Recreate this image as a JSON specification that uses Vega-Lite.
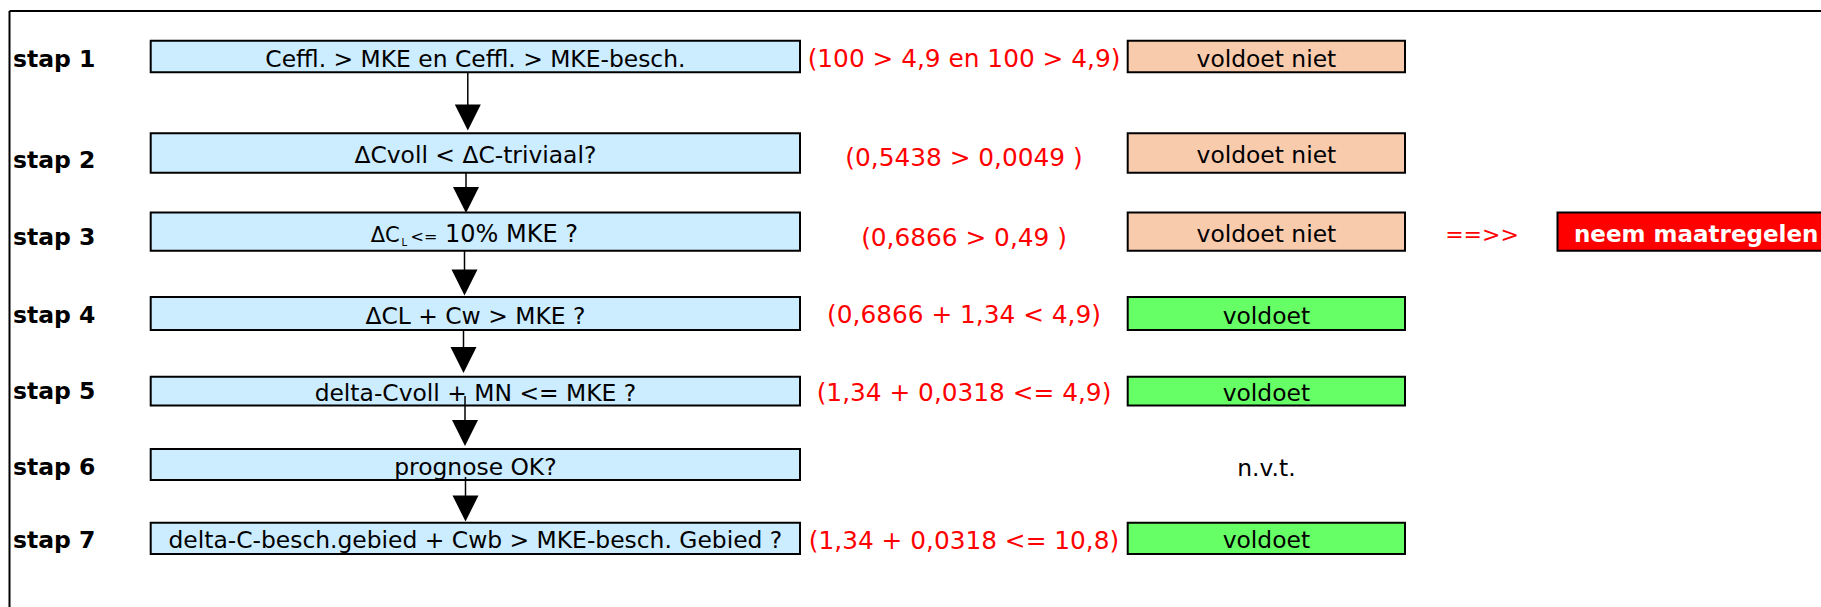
{
  "$schema": "https://vega.github.io/schema/vega-lite/v6.json",
  "width": 1821,
  "height": 607,
  "padding": 0,
  "autosize": {"type": "none"},
  "background": "white",
  "config": {"view": {"stroke": null}, "text": {"font": "DejaVu Sans"}},
  "datasets": {
    "frame": [
      {"x": 9.5, "x2": 1821, "y": 11, "y2": 11},
      {"x": 9.5, "x2": 9.5, "y": 11, "y2": 607}
    ],
    "boxes": [
      {"kind": "vraag", "x0": 150.7, "x1": 800, "y0": 40.7, "y1": 72.3},
      {"kind": "vraag", "x0": 150.7, "x1": 800, "y0": 133.3, "y1": 172.8},
      {"kind": "vraag", "x0": 150.7, "x1": 800, "y0": 212.5, "y1": 250.8},
      {"kind": "vraag", "x0": 150.7, "x1": 800, "y0": 297, "y1": 330},
      {"kind": "vraag", "x0": 150.7, "x1": 800, "y0": 376.7, "y1": 405.5},
      {"kind": "vraag", "x0": 150.7, "x1": 800, "y0": 449, "y1": 480},
      {"kind": "vraag", "x0": 150.7, "x1": 800, "y0": 522.7, "y1": 554},
      {"kind": "voldoet niet", "x0": 1127.7, "x1": 1405, "y0": 40.7, "y1": 72.3},
      {"kind": "voldoet niet", "x0": 1127.7, "x1": 1405, "y0": 133.3, "y1": 172.8},
      {"kind": "voldoet niet", "x0": 1127.7, "x1": 1405, "y0": 212.5, "y1": 250.8},
      {"kind": "voldoet", "x0": 1127.7, "x1": 1405, "y0": 297, "y1": 330},
      {"kind": "voldoet", "x0": 1127.7, "x1": 1405, "y0": 376.7, "y1": 405.5},
      {"kind": "voldoet", "x0": 1127.7, "x1": 1405, "y0": 522.7, "y1": 554},
      {"kind": "maatregel", "x0": 1557.5, "x1": 1900, "y0": 212.5, "y1": 250.8}
    ],
    "arrows": [
      {"x": 467.8, "ytop": 72, "yhead": 117.5},
      {"x": 466, "ytop": 172.8, "yhead": 200},
      {"x": 464.5, "ytop": 250.8, "yhead": 282.5},
      {"x": 463.5, "ytop": 330, "yhead": 360},
      {"x": 465, "ytop": 396, "yhead": 433},
      {"x": 465.5, "ytop": 477, "yhead": 508.5}
    ],
    "steps": [
      {"label": "stap 1", "x": 13, "y": 59.5},
      {"label": "stap 2", "x": 13, "y": 160.5},
      {"label": "stap 3", "x": 13, "y": 237.5},
      {"label": "stap 4", "x": 13, "y": 315.5},
      {"label": "stap 5", "x": 13, "y": 391.5},
      {"label": "stap 6", "x": 13, "y": 467.5},
      {"label": "stap 7", "x": 13, "y": 541}
    ],
    "questions": [
      {"text": "Ceffl. > MKE en Ceffl. > MKE-besch.", "x": 475.4, "y": 59.5},
      {"text": "ΔCvoll < ΔC-triviaal?", "x": 475.4, "y": 156},
      {"text": "ΔCL + Cw > MKE ?", "x": 475.4, "y": 316.5},
      {"text": "delta-Cvoll + MN <= MKE ?", "x": 475.4, "y": 394},
      {"text": "prognose OK?", "x": 475.4, "y": 467.5},
      {"text": "delta-C-besch.gebied + Cwb > MKE-besch. Gebied ?", "x": 475.4, "y": 541.3}
    ],
    "checks": [
      {"text": "(100 > 4,9 en 100 > 4,9)", "x": 964, "y": 60},
      {"text": "(0,5438 > 0,0049 )", "x": 964, "y": 159},
      {"text": "(0,6866 > 0,49 )", "x": 964, "y": 238.5},
      {"text": "(0,6866 + 1,34 < 4,9)", "x": 964, "y": 316},
      {"text": "(1,34 + 0,0318 <= 4,9)", "x": 964, "y": 393.5},
      {"text": "(1,34 + 0,0318 <= 10,8)", "x": 964, "y": 541.5}
    ],
    "verdicts": [
      {"text": "voldoet niet", "x": 1266.4, "y": 59.5},
      {"text": "voldoet niet", "x": 1266.4, "y": 156},
      {"text": "voldoet niet", "x": 1266.4, "y": 234.6},
      {"text": "voldoet", "x": 1266.4, "y": 316.5},
      {"text": "voldoet", "x": 1266.4, "y": 394},
      {"text": "n.v.t.", "x": 1266.4, "y": 468.5},
      {"text": "voldoet", "x": 1266.4, "y": 541.3}
    ]
  },
  "layer": [
    {
      "data": {"name": "frame"},
      "mark": {"type": "rule", "color": "black", "strokeWidth": 2},
      "encoding": {
        "x": {"field": "x", "type": "quantitative", "scale": {"domain": [0, 1821], "nice": false, "zero": false}, "axis": null},
        "x2": {"field": "x2"},
        "y": {"field": "y", "type": "quantitative", "scale": {"domain": [0, 607], "nice": false, "zero": false, "reverse": true}, "axis": null},
        "y2": {"field": "y2"}
      }
    },
    {
      "data": {"name": "boxes"},
      "mark": {"type": "rect", "stroke": "black", "strokeWidth": 2, "clip": true},
      "encoding": {
        "x": {"field": "x0", "type": "quantitative"},
        "x2": {"field": "x1"},
        "y": {"field": "y0", "type": "quantitative"},
        "y2": {"field": "y1"},
        "color": {"field": "kind", "type": "nominal", "legend": null,
          "scale": {"domain": ["vraag", "voldoet niet", "voldoet", "maatregel"], "range": ["#CCECFF", "#F8CBAD", "#66FF66", "#FF0000"]}}
      }
    },
    {
      "data": {"name": "arrows"},
      "mark": {"type": "rule", "color": "black", "strokeWidth": 1.5},
      "encoding": {
        "x": {"field": "x", "type": "quantitative"},
        "y": {"field": "ytop", "type": "quantitative"},
        "y2": {"field": "yhead"}
      }
    },
    {
      "data": {"name": "arrows"},
      "mark": {"type": "point", "shape": "M-1,-1L1,-1L0,1Z", "filled": true, "color": "black", "size": 676, "opacity": 1, "strokeWidth": 0},
      "encoding": {
        "x": {"field": "x", "type": "quantitative"},
        "y": {"field": "yhead", "type": "quantitative"}
      }
    },
    {
      "data": {"name": "steps"},
      "mark": {"type": "text", "align": "left", "baseline": "middle", "fontSize": 23.5, "fontWeight": "bold", "color": "black"},
      "encoding": {
        "x": {"field": "x", "type": "quantitative"},
        "y": {"field": "y", "type": "quantitative"},
        "text": {"field": "label"}
      }
    },
    {
      "data": {"name": "questions"},
      "mark": {"type": "text", "align": "center", "baseline": "middle", "fontSize": 23.4, "color": "black"},
      "encoding": {
        "x": {"field": "x", "type": "quantitative"},
        "y": {"field": "y", "type": "quantitative"},
        "text": {"field": "text"}
      }
    },
    {
      "data": {"values": [{"text": "ΔC", "x": 370.7, "y": 241.5}]},
      "mark": {"type": "text", "align": "left", "baseline": "alphabetic", "fontSize": 21, "color": "black"},
      "encoding": {
        "x": {"field": "x", "type": "quantitative"},
        "y": {"field": "y", "type": "quantitative"},
        "text": {"field": "text"}
      }
    },
    {
      "data": {"values": [{"text": "L", "x": 401.5, "y": 246}]},
      "mark": {"type": "text", "align": "left", "baseline": "alphabetic", "fontSize": 10, "color": "black"},
      "encoding": {
        "x": {"field": "x", "type": "quantitative"},
        "y": {"field": "y", "type": "quantitative"},
        "text": {"field": "text"}
      }
    },
    {
      "data": {"values": [{"text": "<=", "x": 410.5, "y": 242}]},
      "mark": {"type": "text", "align": "left", "baseline": "alphabetic", "fontSize": 16, "color": "black"},
      "encoding": {
        "x": {"field": "x", "type": "quantitative"},
        "y": {"field": "y", "type": "quantitative"},
        "text": {"field": "text"}
      }
    },
    {
      "data": {"values": [{"text": "10% MKE ?", "x": 445, "y": 241.5}]},
      "mark": {"type": "text", "align": "left", "baseline": "alphabetic", "fontSize": 24, "color": "black"},
      "encoding": {
        "x": {"field": "x", "type": "quantitative"},
        "y": {"field": "y", "type": "quantitative"},
        "text": {"field": "text"}
      }
    },
    {
      "data": {"name": "checks"},
      "mark": {"type": "text", "align": "center", "baseline": "middle", "fontSize": 24.8, "color": "#FF0000"},
      "encoding": {
        "x": {"field": "x", "type": "quantitative"},
        "y": {"field": "y", "type": "quantitative"},
        "text": {"field": "text"}
      }
    },
    {
      "data": {"name": "verdicts"},
      "mark": {"type": "text", "align": "center", "baseline": "middle", "fontSize": 23.4, "color": "black"},
      "encoding": {
        "x": {"field": "x", "type": "quantitative"},
        "y": {"field": "y", "type": "quantitative"},
        "text": {"field": "text"}
      }
    },
    {
      "data": {"values": [{"text": "==>>", "x": 1482, "y": 235}]},
      "mark": {"type": "text", "align": "center", "baseline": "middle", "fontSize": 22, "color": "#FF0000"},
      "encoding": {
        "x": {"field": "x", "type": "quantitative"},
        "y": {"field": "y", "type": "quantitative"},
        "text": {"field": "text"}
      }
    },
    {
      "data": {"values": [{"text": "neem maatregelen", "x": 1574, "y": 235}]},
      "mark": {"type": "text", "align": "left", "baseline": "middle", "fontSize": 23, "fontWeight": "bold", "color": "white", "clip": true},
      "encoding": {
        "x": {"field": "x", "type": "quantitative"},
        "y": {"field": "y", "type": "quantitative"},
        "text": {"field": "text"}
      }
    }
  ]
}
